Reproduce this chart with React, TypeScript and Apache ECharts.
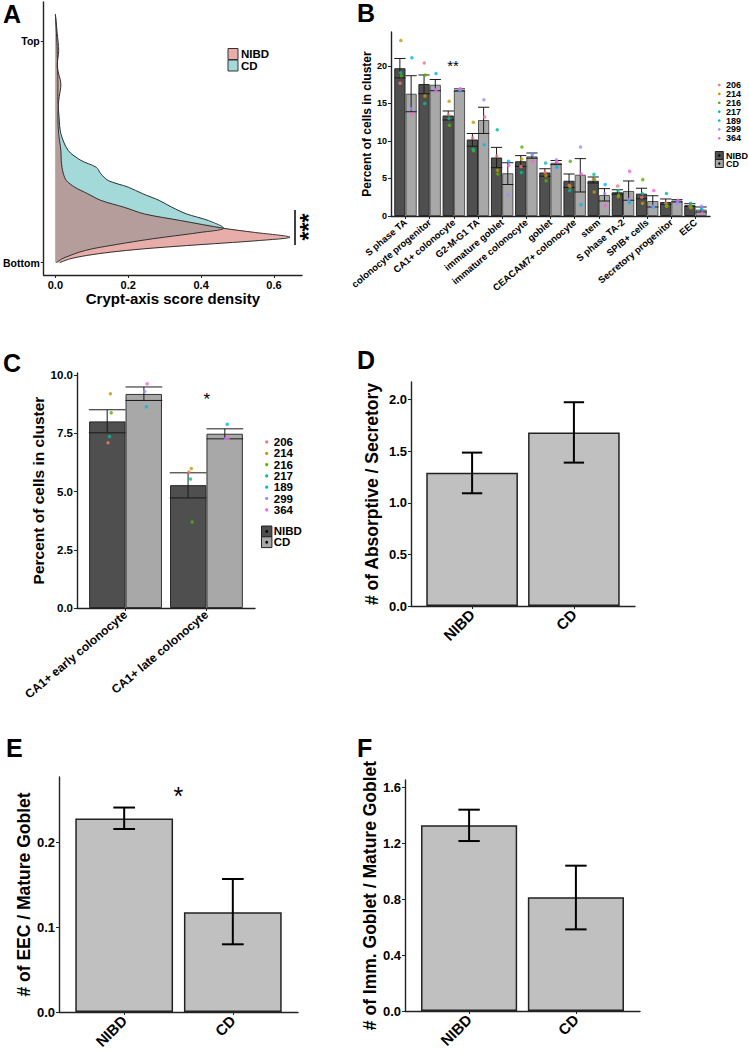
import React, { useEffect, useRef } from 'react';
import * as echarts from 'echarts';

// ---------------- data ----------------
const SAMPLES = ['206', '214', '216', '217', '189', '299', '364'];
const SAMPLE_COLORS = ['#F8766D', '#C49A00', '#53B400', '#00C094', '#00B6EB', '#A58AFF', '#FB61D7'];
const SAMPLE_GROUP = ['NIBD', 'NIBD', 'NIBD', 'NIBD', 'CD', 'CD', 'CD'];
const GROUPS = ['NIBD', 'CD'];

// Panel A: crypt-axis score (0 = Bottom, 1 = Top) vs density
const CRYPT_SCORE = [1.122, 1.035, 0.959, 0.884, 0.808, 0.733, 0.658, 0.582, 0.507, 0.462, 0.431, 0.401, 0.371, 0.341, 0.311, 0.281, 0.25, 0.22, 0.19, 0.155, 0.137, 0.115, 0.1, 0.077, 0.062, 0.047, 0.032, 0.017, 0.0];
const NIBD_DENSITY = [0, 0.005, 0.009, 0.005, 0.015, 0.009, 0.007, 0.009, 0.015, 0.016, 0.018, 0.022, 0.03, 0.053, 0.089, 0.125, 0.189, 0.244, 0.344, 0.462, 0.544, 0.644, 0.56, 0.36, 0.24, 0.15, 0.085, 0.04, 0.012];
const CD_DENSITY = [0, 0.003, 0.005, 0.006, 0.007, 0.007, 0.01, 0.015, 0.035, 0.07, 0.112, 0.125, 0.145, 0.2, 0.24, 0.285, 0.32, 0.36, 0.42, 0.462, 0.4, 0.3, 0.235, 0.15, 0.1, 0.065, 0.04, 0.018, 0.003];

// Panel B
const B_CATEGORIES = ['S phase TA', 'colonocyte progenitor', 'CA1+ colonocyte', 'G2-M-G1 TA', 'immature goblet', 'immature colonocyte', 'goblet', 'CEACAM7+ colonocyte', 'stem', 'S phase TA-2', 'SPIB+ cells', 'Secretory progenitor', 'EEC'];
const B_NIBD_MEAN = [19.7, 17.6, 13.4, 10.2, 7.8, 7.3, 5.8, 4.7, 4.7, 3.16, 2.98, 1.87, 1.43];
const B_NIBD_LOWER = [18.4, 16.3, 12.8, 9.3, 6.45, 6.6, 5.3, 3.8, 4.4, 2.9, 2.3, 1.55, 1.29];
const B_NIBD_UPPER = [21.0, 18.8, 14.0, 11.0, 9.15, 8.05, 6.3, 5.6, 5.2, 3.5, 3.7, 2.27, 1.64];
const B_CD_MEAN = [16.3, 17.5, 16.8, 12.8, 5.7, 7.95, 7.1, 5.5, 2.8, 3.34, 2.0, 2.05, 0.85];
const B_CD_LOWER = [13.9, 16.7, 16.65, 11.0, 4.2, 7.7, 6.85, 3.2, 2.0, 2.1, 1.2, 1.87, 0.53];
const B_CD_UPPER = [18.7, 18.2, 16.95, 14.5, 7.1, 8.4, 7.4, 7.65, 3.65, 4.67, 2.7, 2.18, 1.2];
const B_206 = [17.7, 20.4, 13.5, 10.4, 8.0, 6.6, 5.8, 4.1, 4.9, 4.0, 2.5, 1.7, 1.3];
const B_214 = [23.4, 16.0, 15.3, 12.5, 6.1, 7.6, 5.4, 3.9, 3.2, 2.6, 1.7, 1.3, 1.1];
const B_216 = [18.7, 18.8, 12.1, 8.7, 5.6, 9.2, 4.7, 7.3, 4.9, 2.8, 4.85, 1.4, 1.2];
const B_217 = [19.1, 15.0, 13.0, 8.9, 11.5, 5.8, 7.07, 3.4, 5.55, 3.4, 3.0, 3.0, 1.7];
const B_189 = [21.1, 19.0, 16.7, 9.5, 7.3, 8.3, 6.5, 1.5, 4.2, 1.8, 1.2, 1.85, 0.9];
const B_299 = [14.3, 16.9, 16.9, 15.5, 2.85, 8.2, 7.5, 9.2, 3.0, 2.2, 1.3, 1.7, 1.3];
const B_364 = [13.6, 16.6, 16.95, 13.2, 6.75, 7.25, 7.2, 5.6, 1.4, 5.95, 3.4, 2.1, 0.4];
const B_POINTS = [B_206, B_214, B_216, B_217, B_189, B_299, B_364];
const B_TICKS = [0, 5, 10, 15, 20];

// Panel C
const C_CATEGORIES = ['CA1+ early colonocyte', 'CA1+ late colonocyte'];
const C_NIBD_MEAN = [8.02, 5.28];
const C_NIBD_LOWER = [7.53, 4.73];
const C_NIBD_UPPER = [8.52, 5.81];
const C_CD_MEAN = [9.2, 7.49];
const C_CD_LOWER = [8.92, 7.27];
const C_CD_UPPER = [9.5, 7.7];
const C_206 = [7.1, 5.84];
const C_214 = [9.21, 6.0];
const C_216 = [8.39, 3.7];
const C_217 = [7.37, 5.54];
const C_189 = [8.65, 7.9];
const C_299 = [9.31, 7.27];
const C_364 = [9.64, 7.29];
const C_POINTS = [C_206, C_214, C_216, C_217, C_189, C_299, C_364];
const C_TICKS = [0, 2.5, 5, 7.5, 10];

// Panel D
const D_MEAN = [1.29, 1.68];
const D_LOWER = [1.092, 1.389];
const D_UPPER = [1.486, 1.974];
const D_TICKS = [0, 0.5, 1.0, 1.5, 2.0];

// Panel E
const E_MEAN = [0.228, 0.1175];
const E_LOWER = [0.2157, 0.0798];
const E_UPPER = [0.241, 0.1568];
const E_TICKS = [0, 0.1, 0.2];

// Panel F
const F_MEAN = [1.326, 0.812];
const F_LOWER = [1.214, 0.583];
const F_UPPER = [1.438, 1.038];
const F_TICKS = [0, 0.4, 0.8, 1.2, 1.6];

// ---------------- styling ----------------
const FONT = '"Liberation Sans", Arial, Helvetica, sans-serif';
const AXIS_COLOR = '#222222';
const PINK = '#E8ADA9';
const CYAN = '#A3D9D9';
const BROWN = '#B49D9B';
const NIBD_BAR = '#4F4F4F';
const CD_BAR = '#A8A8A8';
const PLAIN_BAR = '#C0C0C0';
const JITTER = [0.01, 0.04, 0.05, 0.03, 0.03, 0.01, 0.04];

function fmt(ticks: number[], labels: string[]) {
  return (v: number) => {
    const i = ticks.findIndex((t) => Math.abs(t - v) < 1e-9);
    return i >= 0 ? labels[i] : '';
  };
}

function axis(gridIndex: number, min: number, max: number, ticks: number[], labels: string[], fontSize: number, extra: any = {}) {
  const { axisLabel: extraLabel, ...rest } = extra;
  return {
    type: 'value',
    gridIndex,
    min,
    max,
    axisLine: { show: true, onZero: false, lineStyle: { color: AXIS_COLOR, width: 1.4 } },
    axisTick: { show: true, length: 3, customValues: ticks, lineStyle: { color: AXIS_COLOR, width: 1 } },
    splitLine: { show: false },
    axisLabel: {
      customValues: ticks,
      formatter: fmt(ticks, labels),
      fontFamily: FONT,
      fontWeight: 'bold',
      fontSize,
      color: '#000',
      margin: 4,
      ...(extraLabel || {}),
    },
    ...rest,
  };
}

function yName(name: string, size: number, gap: number) {
  return {
    name,
    nameLocation: 'middle',
    nameGap: gap,
    nameTextStyle: { fontFamily: FONT, fontWeight: 'bold', fontSize: size, color: '#000' },
  };
}

function errorSeries(axisIndex: number, xs: number[], lows: number[], highs: number[], capHalf: number, width: number, color: string) {
  return {
    type: 'custom',
    xAxisIndex: axisIndex,
    yAxisIndex: axisIndex,
    z: 3,
    silent: true,
    data: xs.map((x, i) => [x, lows[i], highs[i]]),
    encode: { x: 0, y: [1, 2] },
    renderItem: (_p: any, api: any) => {
      const x = api.value(0);
      const a = api.coord([x, api.value(1)]);
      const b = api.coord([x, api.value(2)]);
      const half = api.size([capHalf, 0])[0];
      const style = { stroke: color, lineWidth: width, fill: null };
      return {
        type: 'group',
        children: [
          { type: 'line', shape: { x1: a[0], y1: a[1], x2: b[0], y2: b[1] }, style },
          { type: 'line', shape: { x1: a[0] - half, y1: a[1], x2: a[0] + half, y2: a[1] }, style },
          { type: 'line', shape: { x1: b[0] - half, y1: b[1], x2: b[0] + half, y2: b[1] }, style },
        ],
      };
    },
  };
}

function barSeries(axisIndex: number, values: number[], color: string, width: string, borderColor: string, borderWidth: number) {
  return {
    type: 'bar',
    xAxisIndex: axisIndex,
    yAxisIndex: axisIndex,
    data: values.map((v, i) => [i, v]),
    barWidth: width,
    barGap: '0%',
    z: 2,
    itemStyle: { color, borderColor, borderWidth },
  };
}

function pointSeries(axisIndex: number, points: number[][], offset: number) {
  return SAMPLES.map((s, k) => ({
    type: 'scatter',
    name: s,
    xAxisIndex: axisIndex,
    yAxisIndex: axisIndex,
    z: 4,
    symbol: 'circle',
    symbolSize: 3.5,
    itemStyle: { color: SAMPLE_COLORS[k] },
    data: points[k].map((v, i) => [i + (SAMPLE_GROUP[k] === 'NIBD' ? -offset : offset) + JITTER[k], v]),
  }));
}

function sampleLegend(x: number, y0: number, step: number, r: number, fontSize: number, boxY: number, boxW: number, boxH: number) {
  const els: any[] = [];
  SAMPLES.forEach((s, k) => {
    const y = y0 + step * k;
    els.push({ type: 'circle', shape: { cx: x, cy: y, r }, style: { fill: SAMPLE_COLORS[k] } });
    els.push({
      type: 'text',
      x: x + 5.5 + r,
      y,
      style: { text: s, fontFamily: FONT, fontWeight: 'bold', fontSize, lineHeight: step, fill: '#000', verticalAlign: 'middle', align: 'left' },
    });
  });
  GROUPS.forEach((g, k) => {
    const by = boxY + k * boxH;
    els.push({
      type: 'rect',
      shape: { x: x - boxW / 2, y: by, width: boxW, height: boxH },
      style: { fill: k === 0 ? NIBD_BAR : CD_BAR, stroke: '#222', lineWidth: 1 },
    });
    els.push({ type: 'circle', shape: { cx: x, cy: by + boxH / 2, r: r * 0.9 }, style: { fill: '#000' } });
    els.push({
      type: 'text',
      x: x + 5.5 + r,
      y: by + boxH / 2,
      style: { text: g, fontFamily: FONT, fontWeight: 'bold', fontSize, lineHeight: boxH, fill: '#000', verticalAlign: 'middle', align: 'left' },
    });
  });
  return els;
}

function letter(t: string, x: number, y: number) {
  return {
    type: 'text',
    x,
    y,
    style: { text: t, fontFamily: FONT, fontWeight: 'bold', fontSize: 25, fill: '#000', verticalAlign: 'middle', align: 'left' },
  };
}

function star(t: string, x: number, y: number, size: number) {
  return {
    type: 'text',
    x,
    y: y + size * 0.25,
    style: { text: t, fontFamily: FONT, fontSize: size, fill: '#000', verticalAlign: 'middle', align: 'center' },
  };
}

function buildOption() {
  const bOff = 0.2325;
  const cOff = 0.227;
  const bIdx = B_CATEGORIES.map((_, i) => i);
  const cIdx = C_CATEGORIES.map((_, i) => i);
  const gIdx = GROUPS.map((_, i) => i);

  const grid = [
    { left: 42, top: 2, width: 260, height: 273 },
    { left: 391, top: 32, width: 319, height: 184 },
    { left: 77, top: 373, width: 178, height: 235 },
    { left: 411, top: 382, width: 224, height: 224 },
    { left: 59, top: 777, width: 239, height: 235 },
    { left: 405, top: 780, width: 235, height: 231 },
  ];

  const xAxis = [
    axis(0, -0.032, 0.677, [0, 0.2, 0.4, 0.6], ['0.0', '0.2', '0.4', '0.6'], 11, {
      name: 'Crypt-axis score density',
      nameLocation: 'middle',
      nameGap: 14,
      nameTextStyle: { fontFamily: FONT, fontWeight: 'bold', fontSize: 15, color: '#000', verticalAlign: 'top' },
    }),
    axis(1, -0.6, 12.6, bIdx, B_CATEGORIES, 9.5, { axisLabel: { rotate: 40, margin: 5 } }),
    axis(2, -0.6, 1.6, cIdx, C_CATEGORIES, 12, { axisLabel: { rotate: 40, margin: 5 } }),
    axis(3, -0.6, 1.6, gIdx, GROUPS, 15, { axisLabel: { rotate: 45, margin: 6 } }),
    axis(4, -0.6, 1.6, gIdx, GROUPS, 15, { axisLabel: { rotate: 45, margin: 6 } }),
    axis(5, -0.6, 1.6, gIdx, GROUPS, 15, { axisLabel: { rotate: 45, margin: 6 } }),
  ];

  const yAxis = [
    axis(0, -0.056, 1.178, [0, 1], ['Bottom', 'Top'], 10.5),
    axis(1, 0, 24.53, B_TICKS, B_TICKS.map((t) => String(t)), 9, yName('Percent of cells in cluster', 12, 14)),
    axis(2, 0, 10.1, C_TICKS, C_TICKS.map((t) => t.toFixed(1)), 11.5, yName('Percent of cells in cluster', 15.5, 27)),
    axis(3, 0, 2.17, D_TICKS, D_TICKS.map((t) => t.toFixed(1)), 13, yName('# of Absorptive / Secretory', 17.5, 30)),
    axis(4, 0, 0.277, E_TICKS, E_TICKS.map((t) => t.toFixed(1)), 13, yName('# of EEC / Mature Goblet', 17.5, 22)),
    axis(5, 0, 1.65, F_TICKS, F_TICKS.map((t) => t.toFixed(1)), 13, yName('# of Imm. Goblet / Mature Goblet', 17.5, 24)),
  ];

  const SMOOTH = 0.3;
  const densitySeries = {
    type: 'custom',
    xAxisIndex: 0,
    yAxisIndex: 0,
    silent: true,
    data: [[0, 0]],
    renderItem: (_p: any, api: any) => {
      const nib = CRYPT_SCORE.map((s, i) => api.coord([NIBD_DENSITY[i], s]));
      const cd = CRYPT_SCORE.map((s, i) => api.coord([CD_DENSITY[i], s]));
      const ov = CRYPT_SCORE.map((s, i) => api.coord([Math.min(NIBD_DENSITY[i], CD_DENSITY[i]), s]));
      const top0 = api.coord([0, CRYPT_SCORE[0]]);
      const bot0 = api.coord([0, CRYPT_SCORE[CRYPT_SCORE.length - 1]]);
      const fillShape = (pts: number[][], fill: string) => ({
        type: 'group',
        children: [
          { type: 'polyline', shape: { points: pts, smooth: SMOOTH }, style: { fill: null, stroke: fill, lineWidth: 0.5 } },
          { type: 'polygon', shape: { points: [...pts, bot0, top0], smooth: 0 }, style: { fill } },
        ],
      });
      const line = { stroke: '#333', lineWidth: 1, fill: null };
      return {
        type: 'group',
        children: [
          fillShape(nib, PINK),
          fillShape(cd, CYAN),
          fillShape(ov, BROWN),
          { type: 'polyline', shape: { points: nib, smooth: SMOOTH }, style: line },
          { type: 'polyline', shape: { points: cd, smooth: SMOOTH }, style: line },
        ],
      };
    },
  };

  const series: any[] = [
    densitySeries,
    // B
    barSeries(1, B_NIBD_MEAN, NIBD_BAR, '46.5%', '#262626', 1),
    barSeries(1, B_CD_MEAN, CD_BAR, '46.5%', '#555', 1),
    errorSeries(1, bIdx.map((i) => i - bOff), B_NIBD_LOWER, B_NIBD_UPPER, bOff, 1, '#1a1a1a'),
    errorSeries(1, bIdx.map((i) => i + bOff), B_CD_LOWER, B_CD_UPPER, bOff, 1, '#1a1a1a'),
    ...pointSeries(1, B_POINTS, bOff),
    // C
    barSeries(2, C_NIBD_MEAN, NIBD_BAR, '45%', '#262626', 1),
    barSeries(2, C_CD_MEAN, CD_BAR, '45%', '#333', 1),
    errorSeries(2, cIdx.map((i) => i - cOff), C_NIBD_LOWER, C_NIBD_UPPER, cOff, 1, '#1a1a1a'),
    errorSeries(2, cIdx.map((i) => i + cOff), C_CD_LOWER, C_CD_UPPER, cOff, 1, '#1a1a1a'),
    ...pointSeries(2, C_POINTS, cOff),
    // D, E, F
    barSeries(3, D_MEAN, PLAIN_BAR, '90%', '#222', 1.5),
    errorSeries(3, gIdx, D_LOWER, D_UPPER, 0.1, 2, '#000'),
    barSeries(4, E_MEAN, PLAIN_BAR, '90%', '#222', 1.5),
    errorSeries(4, gIdx, E_LOWER, E_UPPER, 0.1, 2, '#000'),
    barSeries(5, F_MEAN, PLAIN_BAR, '90%', '#222', 1.5),
    errorSeries(5, gIdx, F_LOWER, F_UPPER, 0.1, 2, '#000'),
  ];

  const legendText = (t: string, y: number) => ({
    type: 'text', x: 241, y,
    style: { text: t, fontFamily: FONT, fontWeight: 'bold', fontSize: 11.5, lineHeight: 11, fill: '#000', verticalAlign: 'middle' },
  });

  const graphic: any[] = [
    letter('A', 3, 14),
    letter('B', 357, 12.5),
    letter('C', 3, 362.5),
    letter('D', 357, 360),
    letter('E', 6, 748),
    letter('F', 357, 748),
    // Panel A legend
    { type: 'rect', shape: { x: 228, y: 48.5, width: 10, height: 11 }, style: { fill: PINK, stroke: '#333', lineWidth: 1 } },
    { type: 'rect', shape: { x: 228, y: 60, width: 10, height: 11 }, style: { fill: CYAN, stroke: '#333', lineWidth: 1 } },
    legendText(GROUPS[0], 54),
    legendText(GROUPS[1], 65.7),
    // Panel A significance
    { type: 'line', shape: { x1: 295, y1: 210, x2: 295, y2: 245 }, style: { stroke: '#000', lineWidth: 1.5 } },
    {
      type: 'text', x: 309, y: 227, rotation: Math.PI / 2,
      style: { text: '***', fontFamily: FONT, fontWeight: 'bold', fontSize: 23, fill: '#000', align: 'center', verticalAlign: 'middle' },
    },
    star('**', 453, 62, 15),
    star('*', 206.7, 395, 17),
    star('*', 178.3, 790, 25),
    ...sampleLegend(719.3, 85, 8.88, 1.3, 9, 151.5, 8, 8),
    ...sampleLegend(266.7, 442, 11.3, 1.6, 11.5, 526, 10.4, 10.8),
  ];

  return {
    animation: false,
    backgroundColor: '#ffffff',
    textStyle: { fontFamily: FONT },
    grid,
    xAxis,
    yAxis,
    series,
    graphic,
  };
}

export default function App() {
  const ref = useRef<HTMLDivElement>(null);
  useEffect(() => {
    document.body.style.margin = '0';
    const chart = echarts.init(ref.current as HTMLDivElement, null, { renderer: 'svg' });
    chart.setOption(buildOption() as any);
    return () => chart.dispose();
  }, []);
  return <div ref={ref} style={{ position: 'absolute', left: 0, top: 0, width: 749, height: 1054, background: '#fff' }} />;
}
